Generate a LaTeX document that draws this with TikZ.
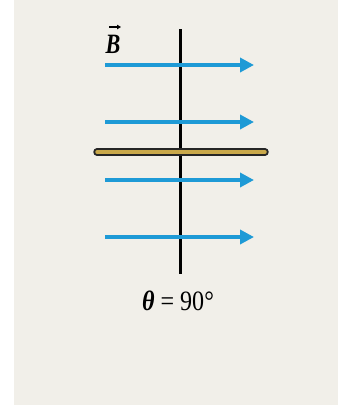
\documentclass[tikz,border=0pt]{standalone}
\usepackage{fontspec}
\setmainfont{Liberation Serif}
\usetikzlibrary{arrows.meta}
\definecolor{paper}{HTML}{F1EFE9}
\definecolor{fieldblue}{HTML}{1E9AD6}
\definecolor{gold}{HTML}{C9A84A}
\tikzset{
  x=1pt,y=-1pt,
  fieldarrow/.style={fieldblue,line width=4pt,-{Triangle[length=14pt,width=14pt]}},
  loopedge/.style={black,line width=3pt},
  lbl/.style={font=\fontsize{28}{32}\selectfont, inner sep=0pt, xscale=0.86},
}
\begin{document}
\begin{tikzpicture}
\useasboundingbox (0,0) rectangle (338,413);
\fill[white] (0,0) rectangle (338,413);
\fill[paper] (14,0) rectangle (338,405);
% normal / loop seen edge-on (vertical line)
\coordinate (vt) at (180,29);
\coordinate (vb) at (180,274);
\draw[loopedge] (vt) -- (vb);
% field arrows
\foreach \i/\y in {1/65,2/122,3/180,4/237}{
  \coordinate (s\i) at (105,\y);
  \coordinate (e\i) at (254,\y);
  \draw[fieldarrow] (s\i) -- (e\i);
}
% loop edge (gold bar)
\coordinate (gl) at (97,152);
\coordinate (gr) at (265,152);
\draw[black!85,line width=7.5pt,line cap=round] (gl) -- (gr);
\draw[gold,line width=3.5pt,line cap=round] (gl) -- (gr);
% labels
\node[lbl,xscale=0.92] (B) at (113,44) {\textbf{\textit{B}}};
\coordinate (ba) at (109,27);
\coordinate (bb) at (121,27);
\draw[black,line width=1.2pt,-{Triangle[length=4pt,width=4.5pt]}] (ba) -- (bb);
\node[lbl] (th) at (178,301) {\textbf{\textit{θ}} = 90°};
\end{tikzpicture}
\end{document}
